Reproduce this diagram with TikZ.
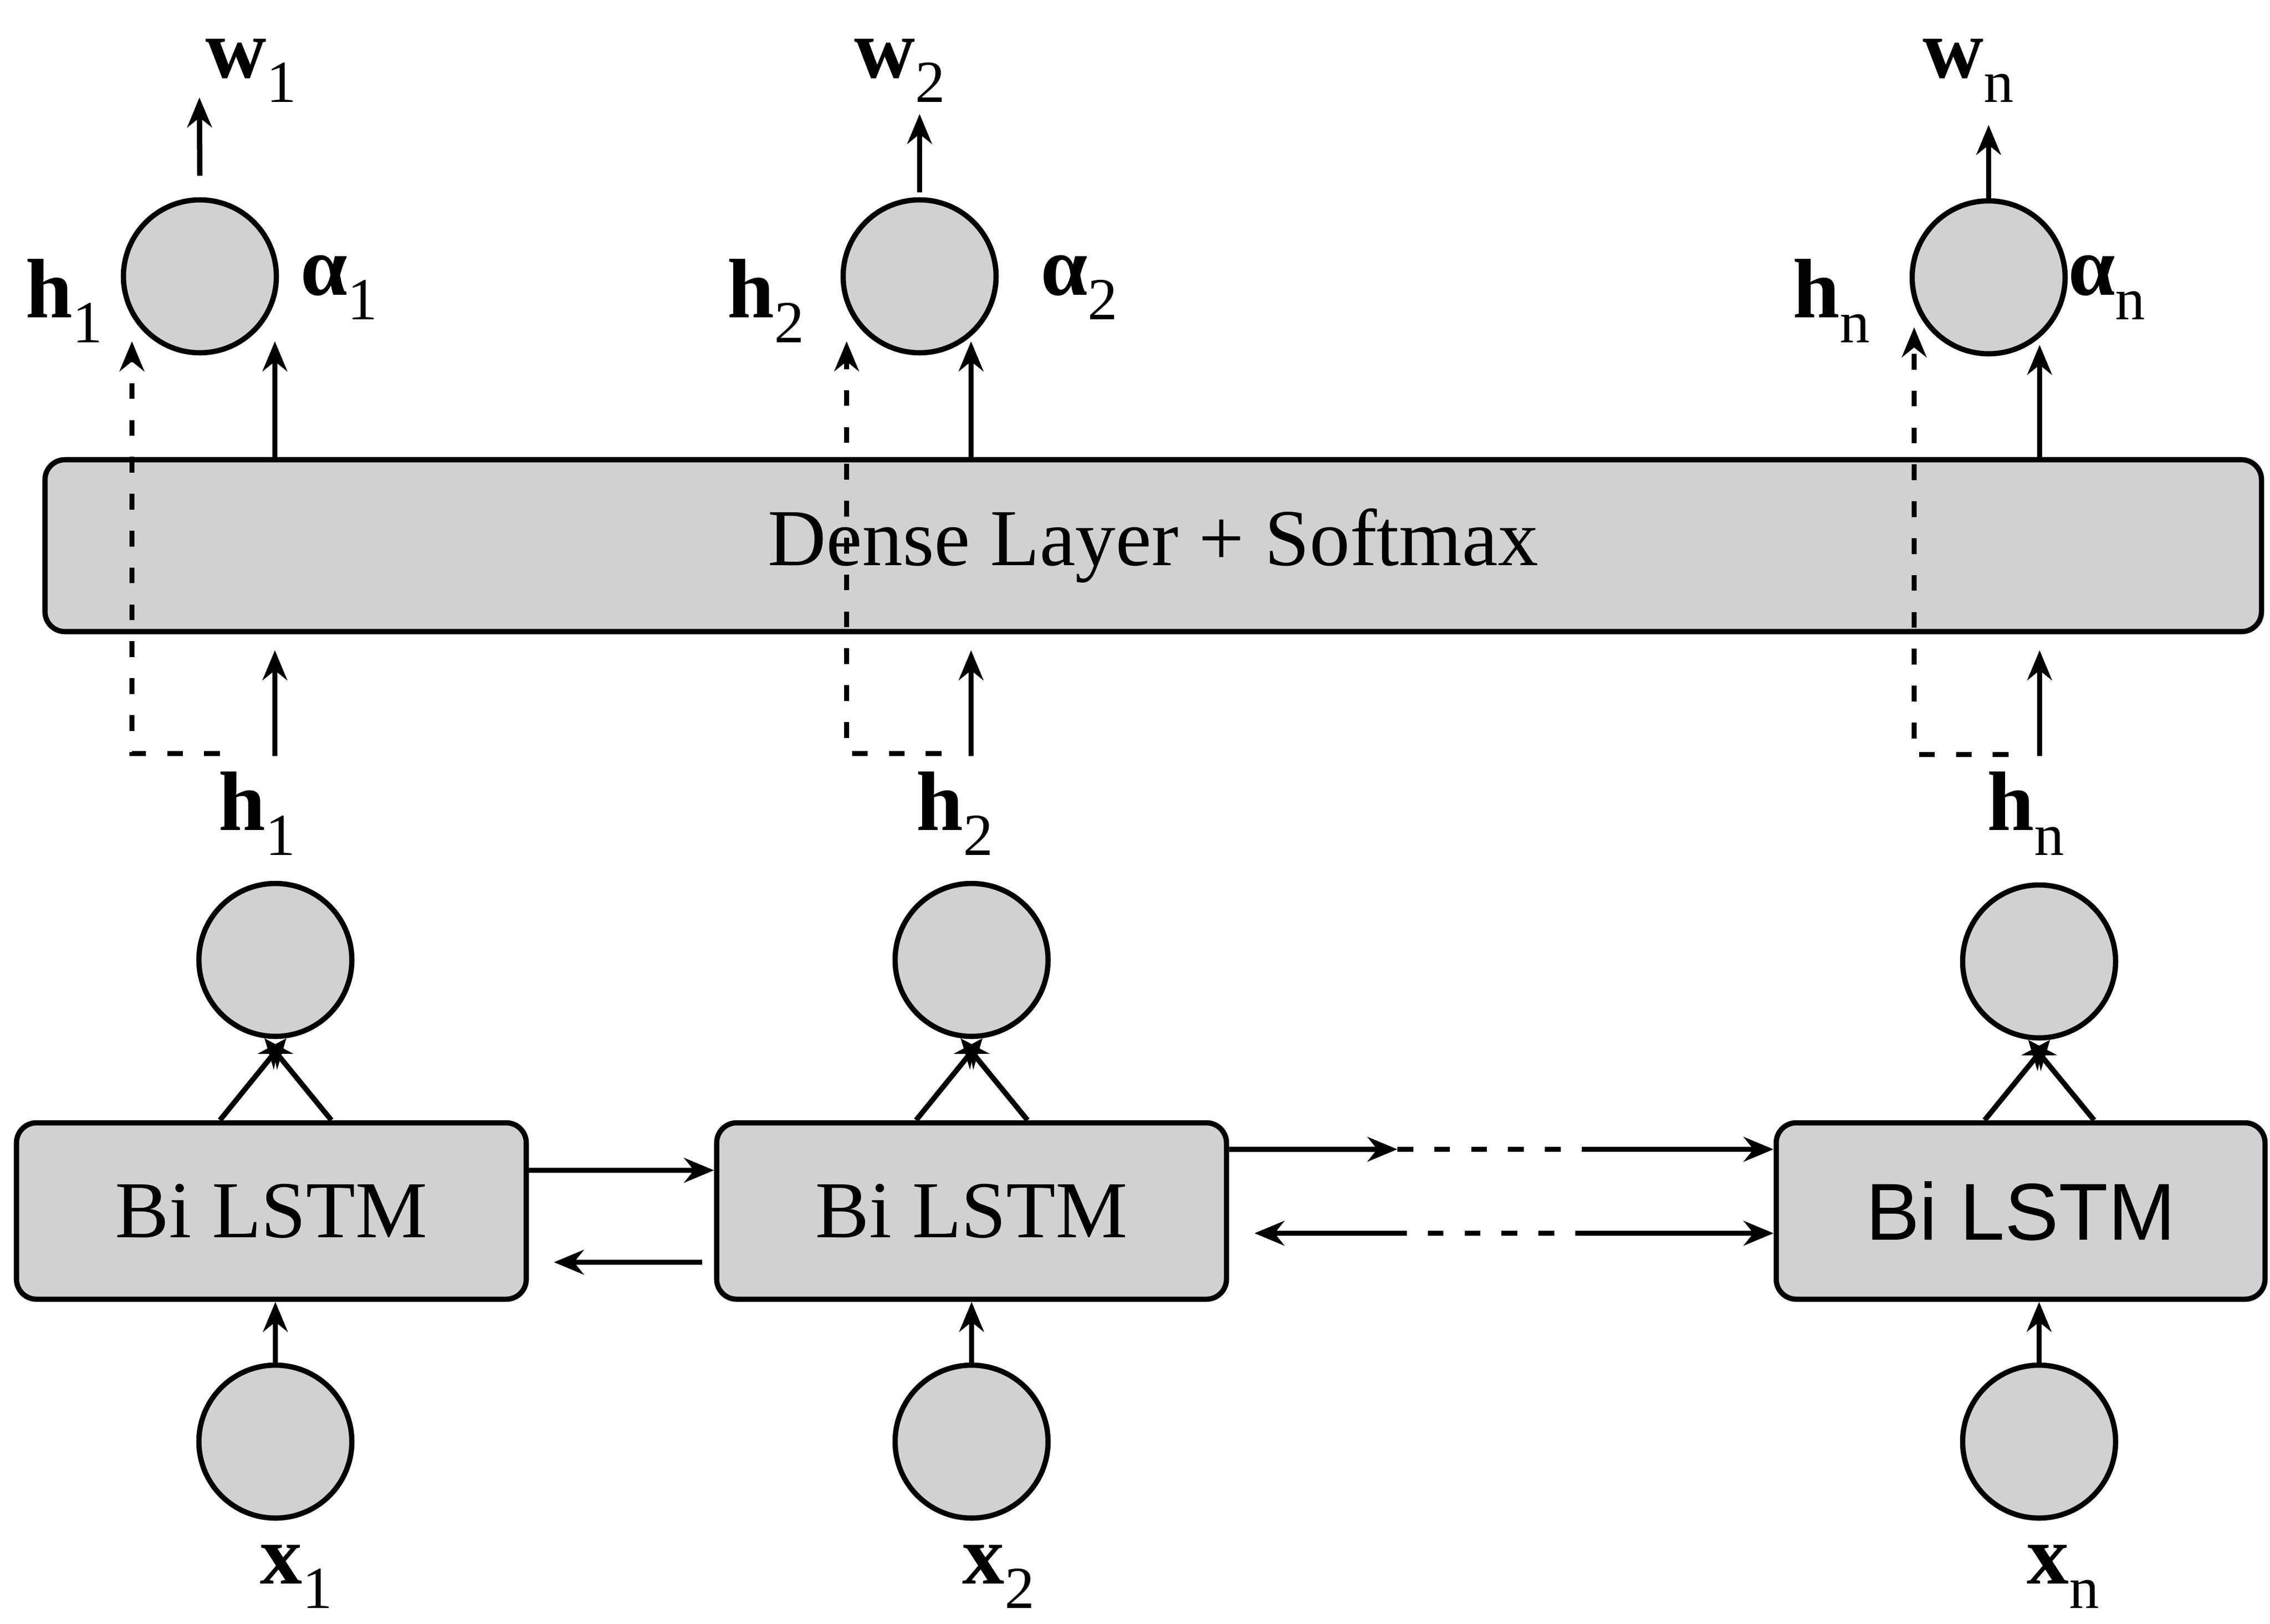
\documentclass[tikz,border=0pt]{standalone}
\usepackage{fontspec}
\setmainfont{Liberation Serif}
\newfontfamily\sansfont{Liberation Sans}
\usetikzlibrary{arrows.meta}
\definecolor{cellgray}{gray}{0.82}
\newcommand{\sublab}[2]{{\fontsize{48}{50}\selectfont\bfseries #1\raisebox{-14pt}{\fontsize{34}{36}\selectfont\mdseries #2}}}
\begin{document}
\begin{tikzpicture}[
	cell/.style={circle,draw,fill=cellgray,line width=3pt,minimum size=3.06cm,inner sep=0pt},
	layer/.style={rectangle,rounded corners=4mm,draw,fill=cellgray,line width=3pt,inner sep=0pt,font=\fontsize{46}{50}\selectfont},
	arr/.style={line width=3pt,-{Stealth[length=17pt,width=14pt]}},
	dashline/.style={line width=3pt,dash pattern=on 9pt off 12pt},
	lab/.style={inner sep=0pt}
]
	\useasboundingbox (0,0) rectangle (45.42,-32.5);
	% attention cells
	\node[cell] (t1) at (4.00,-5.53) {};
	\node[cell] (t2) at (18.40,-5.53) {};
	\node[cell] (tn) at (39.79,-5.55) {};
	\node[layer,minimum width=44.35cm,minimum height=3.44cm] (dense) at (23.075,-10.92) {Dense Layer + Softmax};
	% hidden cells, lstm boxes, inputs
	\node[cell] (c1) at (5.51,-19.21) {};
	\node[cell] (c2) at (19.44,-19.21) {};
	\node[cell] (cn) at (40.80,-19.24) {};
	\node[layer,minimum width=10.20cm,minimum height=3.53cm] (b1) at (5.43,-24.235) {Bi LSTM};
	\node[layer,minimum width=10.20cm,minimum height=3.53cm] (b2) at (19.44,-24.235) {Bi LSTM};
	\node[layer,minimum width=9.78cm,minimum height=3.53cm] (bn) at (40.43,-24.235) {\sansfont Bi LSTM};
	\node[cell] (x1c) at (5.51,-28.85) {};
	\node[cell] (x2c) at (19.44,-28.85) {};
	\node[cell] (xnc) at (40.80,-28.85) {};
	% labels
	\node[lab] (w1) at (5.02,-1.41) {\sublab{w}{1}};
	\node[lab] (w2) at (18.00,-1.41) {\sublab{w}{2}};
	\node[lab] (wn) at (39.38,-1.41) {\sublab{w}{n}};
	\node[lab] (ht1) at (1.28,-6.02) {\sublab{h}{1}};
	\node[lab] (ht2) at (15.32,-6.02) {\sublab{h}{2}};
	\node[lab] (htn) at (36.64,-6.02) {\sublab{h}{n}};
	\node[lab] (al1) at (6.78,-5.75) {\sublab{α}{1}};
	\node[lab] (al2) at (21.59,-5.75) {\sublab{α}{2}};
	\node[lab] (aln) at (42.15,-5.75) {\sublab{α}{n}};
	\node[lab] (hb1) at (5.14,-16.28) {\sublab{h}{1}};
	\node[lab] (hb2) at (19.10,-16.28) {\sublab{h}{2}};
	\node[lab] (hbn) at (40.53,-16.28) {\sublab{h}{n}};
	\node[lab] (xl1) at (5.93,-31.55) {\sublab{x}{1}};
	\node[lab] (xl2) at (19.98,-31.55) {\sublab{x}{2}};
	\node[lab] (xln) at (41.28,-31.55) {\sublab{x}{n}};
	% free ends
	\coordinate (wt1) at (3.99,-1.95);
	\coordinate (wt2) at (18.40,-2.28);
	\coordinate (wtn) at (39.79,-2.50);
	\coordinate (a1) at (5.50,-6.83);
	\coordinate (a2) at (19.43,-6.83);
	\coordinate (an) at (40.81,-6.90);
	\coordinate (d1) at (2.64,-6.83);
	\coordinate (d2) at (16.94,-6.83);
	\coordinate (dn) at (38.30,-6.55);
	\coordinate (e1) at (4.40,-15.08);
	\coordinate (e2) at (18.84,-15.08);
	\coordinate (en) at (40.19,-15.10);
	\coordinate (g1) at (5.50,-15.13);
	\coordinate (g2) at (19.43,-15.13);
	\coordinate (gn) at (40.81,-15.13);
	\coordinate (m1) at (27.96,-23.00);
	\coordinate (m2) at (31.78,-23.00);
	\coordinate (m0) at (25.10,-24.68);
	\coordinate (m3) at (27.83,-24.68);
	\coordinate (m4) at (31.78,-24.68);
	\coordinate (bnc) at (bn.north -| cn);
	% output arrows
	\draw[arr,shorten <=4.3mm] (t1.north) -- (wt1);
	\draw[arr,shorten <=1mm] (t2.north) -- (wt2);
	\draw[arr] (tn.north) -- (wtn);
	% dense layer to cells
	\draw[arr] (dense.north -| a1) -- (a1);
	\draw[arr] (dense.north -| a2) -- (a2);
	\draw[arr] (dense.north -| an) -- (an);
	\draw[arr,shorten >=3.2mm] (g1) -- (dense.south -| g1);
	\draw[arr,shorten >=3.2mm] (g2) -- (dense.south -| g2);
	\draw[arr,shorten >=3.2mm] (gn) -- (dense.south -| gn);
	\draw[dashline,arr] (e1) -| (d1);
	\draw[dashline,arr] (e2) -| (d2);
	\draw[dashline,arr] (en) -| (dn);
	% lstm to hidden cells
	\draw[arr] ([xshift=-11.1mm]b1.north -| c1) -- (c1.-82);
	\draw[arr] ([xshift=11.2mm]b1.north -| c1) -- (c1.-98);
	\draw[arr] ([xshift=-11.1mm]b2.north) -- (c2.-82);
	\draw[arr] ([xshift=11.2mm]b2.north) -- (c2.-98);
	\draw[arr] ([xshift=-10.9mm]bnc) -- (cn.-82);
	\draw[arr] ([xshift=11.0mm]bnc) -- (cn.-98);
	% inputs
	\draw[arr] (x1c.north) -- (b1.south -| x1c);
	\draw[arr] (x2c.north) -- (b2.south -| x2c);
	\draw[arr] (xnc.north) -- (bn.south -| xnc);
	% between lstm boxes
	\draw[arr] ([yshift=8.15mm]b1.east) -- ([yshift=8.15mm]b2.west);
	\draw[arr] ([yshift=-10.25mm,xshift=-2.4mm]b2.west) -- ([yshift=-10.25mm,xshift=5mm]b1.east);
	\draw[arr] ([yshift=12.35mm]b2.east) -- (m1);
	\draw[dashline] (m1) -- (m2);
	\draw[arr] (m2) -- (m2 -| bn.west);
	\draw[arr] (m3) -- (m0);
	\draw[dashline] (m3) -- (m4);
	\draw[arr] (m4) -- (m4 -| bn.west);
\end{tikzpicture}
\end{document}
